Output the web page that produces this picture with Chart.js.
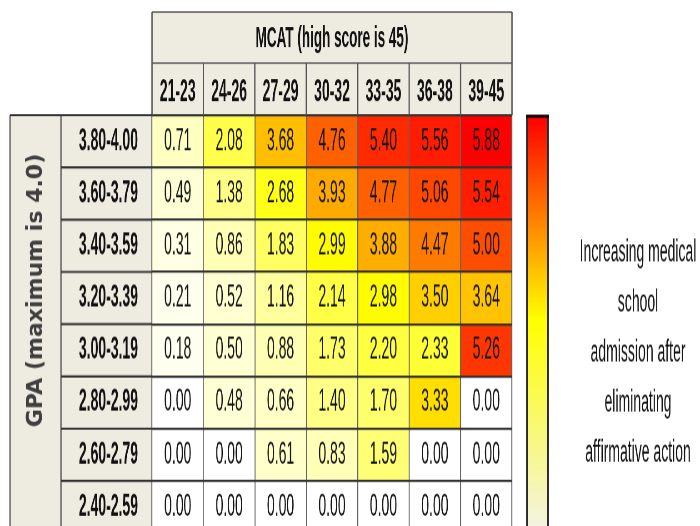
<!DOCTYPE html>
<html>
<head>
<meta charset="utf-8">
<script src="https://cdn.jsdelivr.net/npm/chart.js@4.4.1/dist/chart.umd.min.js"></script>
<style>
  html, body { margin: 0; padding: 0; background: #fff; }
  #wrap { width: 700px; height: 526px; overflow: hidden; position: relative; }
  #inner { width: 700px; height: 244px; transform: scaleY(2.2); transform-origin: 0 0; }
</style>
</head>
<body>
<div id="wrap"><div id="inner"><canvas id="heat" width="700" height="244"></canvas></div></div>
<script>
// MCAT columns and GPA rows
const mcatBins = ["21-23", "24-26", "27-29", "30-32", "33-35", "36-38", "39-45"];
const gpaBins = ["3.80-4.00", "3.60-3.79", "3.40-3.59", "3.20-3.39", "3.00-3.19", "2.80-2.99", "2.60-2.79", "2.40-2.59"];

// one array per GPA row, left to right by MCAT
const gpa380 = [0.71, 2.08, 3.68, 4.76, 5.40, 5.56, 5.88];
const gpa360 = [0.49, 1.38, 2.68, 3.93, 4.77, 5.06, 5.54];
const gpa340 = [0.31, 0.86, 1.83, 2.99, 3.88, 4.47, 5.00];
const gpa320 = [0.21, 0.52, 1.16, 2.14, 2.98, 3.50, 3.64];
const gpa300 = [0.18, 0.50, 0.88, 1.73, 2.20, 2.33, 5.26];
const gpa280 = [0.00, 0.48, 0.66, 1.40, 1.70, 3.33, 0.00];
const gpa260 = [0.00, 0.00, 0.61, 0.83, 1.59, 0.00, 0.00];
const gpa240 = [0.00, 0.00, 0.00, 0.00, 0.00, 0.00, 0.00];
const gpaRows = [gpa380, gpa360, gpa340, gpa320, gpa300, gpa280, gpa260, gpa240];

const xTitle = "MCAT (high score is 45)";
const yTitle = "GPA (maximum is 4.0)";
const legendLines = ["Increasing medical", "school", "admission after", "eliminating", "affirmative action"];

const SY = 2.2; // page is stretched vertically by this much
const FONT = "'Liberation Sans', Arial, sans-serif";
const BEIGE = "#eeece1";

function heat(v) {
  if (v <= 0) return "#ffffff";
  const mid = 2.95, max = 5.88;
  if (v <= mid) {
    const b = Math.round(255 * (1 - v / mid));
    return "rgb(255,255," + b + ")";
  }
  const g = Math.round(255 * (1 - Math.min(1, (v - mid) / (max - mid))));
  return "rgb(255," + g + ",0)";
}

const tablePlugin = {
  id: "table",
  beforeDraw(chart) {
    const ctx = chart.ctx, a = chart.chartArea;
    ctx.save();
    ctx.fillStyle = "#fff";
    ctx.fillRect(0, 0, chart.width, chart.height);
    ctx.fillStyle = BEIGE;
    ctx.fillRect(a.left, 12 / SY, a.right - a.left, a.top - 12 / SY);
    ctx.fillRect(10, a.top, a.left - 10, chart.height - a.top);
    ctx.restore();
  },
  afterDatasetsDraw(chart) {
    const ctx = chart.ctx;
    ctx.save();
    ctx.fillStyle = "#151515";
    ctx.font = "14px " + FONT;
    ctx.textAlign = "center";
    ctx.textBaseline = "middle";
    chart.data.datasets.forEach((ds, r) => {
      chart.getDatasetMeta(r).data.forEach((bar, c) => {
        const p = bar.getCenterPoint();
        ctx.fillText(gpaRows[r][c].toFixed(2), p.x, p.y);
      });
    });
    ctx.restore();
  },
  afterDraw(chart) {
    const ctx = chart.ctx, a = chart.chartArea;
    const xs = chart.scales.x, ys = chart.scales.y;
    const hTop = 12 / SY, hMid = 63 / SY;
    ctx.save();
    // header frame
    ctx.strokeStyle = "#555";
    ctx.lineWidth = 1.3 / SY;
    ctx.beginPath();
    ctx.moveTo(a.left, hTop); ctx.lineTo(a.right, hTop);
    ctx.moveTo(a.left, hMid); ctx.lineTo(a.right, hMid);
    ctx.stroke();
    ctx.lineWidth = 1.3;
    ctx.beginPath();
    ctx.moveTo(a.left, hTop); ctx.lineTo(a.left, a.top);
    ctx.moveTo(a.right, hTop); ctx.lineTo(a.right, a.top);
    for (let i = 1; i < mcatBins.length; i++) {
      const x = (xs.getPixelForValue(i - 1) + xs.getPixelForValue(i)) / 2;
      ctx.moveTo(x, hMid); ctx.lineTo(x, a.top);
    }
    ctx.moveTo(10, a.top); ctx.lineTo(10, chart.height);
    ctx.moveTo(61, a.top); ctx.lineTo(61, chart.height);
    ctx.stroke();
    // row lines in the label column
    ctx.strokeStyle = "#333";
    ctx.lineWidth = 1;
    ctx.beginPath();
    ctx.moveTo(10, a.top); ctx.lineTo(a.left, a.top);
    for (let r = 1; r <= gpaBins.length; r++) {
      const y = ys.getPixelForValue(r);
      ctx.moveTo(61, y); ctx.lineTo(a.left, y);
    }
    ctx.stroke();

    // colour bar
    const cx0 = 527, cx1 = 548, cy0 = 116 / SY, cy1 = 531 / SY;
    const grad = ctx.createLinearGradient(0, cy0, 0, cy1);
    grad.addColorStop(0, "#ff0000");
    grad.addColorStop(0.49, "#ffff00");
    grad.addColorStop(1, "#f3f3e6");
    ctx.fillStyle = grad;
    ctx.fillRect(cx0, cy0, cx1 - cx0, cy1 - cy0);
    ctx.strokeStyle = "#2a2a2a";
    ctx.lineWidth = 2;
    ctx.beginPath();
    ctx.moveTo(cx0, cy0); ctx.lineTo(cx0, chart.height);
    ctx.moveTo(cx1, cy0); ctx.lineTo(cx1, chart.height);
    ctx.stroke();
    ctx.strokeStyle = "#000";
    ctx.lineWidth = 3 / SY;
    ctx.beginPath();
    ctx.moveTo(cx0 - 1, cy0); ctx.lineTo(cx1 + 1, cy0);
    ctx.stroke();

    // legend text
    ctx.fillStyle = "#151515";
    ctx.font = "14px " + FONT;
    ctx.textAlign = "center";
    ctx.textBaseline = "alphabetic";
    legendLines.forEach((t, i) => {
      ctx.fillText(t, 638, (261 + i * 50) / SY);
    });

    // rotated GPA title, drawn unstretched
    ctx.translate(36, 290 / SY);
    ctx.scale(1, 1 / SY);
    ctx.rotate(-Math.PI / 2);
    ctx.fillStyle = "#3f3f3f";
    ctx.font = "bold 22px 'DejaVu Sans', sans-serif";
    ctx.textAlign = "center";
    ctx.textBaseline = "middle";
    ctx.fillText(yTitle, 0, 0);
    ctx.restore();
  }
};

new Chart(document.getElementById("heat"), {
  type: "bar",
  data: {
    labels: mcatBins,
    datasets: gpaRows.map((vals, r) => ({
      label: gpaBins[r],
      data: vals.map(() => [r, r + 1]),
      backgroundColor: (c) => heat(gpaRows[c.datasetIndex][c.dataIndex]),
      borderWidth: 0,
      barPercentage: 1,
      categoryPercentage: 1,
      grouped: false,
    })),
  },
  options: {
    responsive: false,
    animation: false,
    devicePixelRatio: 2.2,
    layout: { padding: { left: 10, right: 188, top: 12 / SY, bottom: 244 - 532.3 / SY } },
    plugins: { legend: { display: false }, tooltip: { enabled: false } },
    scales: {
      x: {
        type: "category",
        position: "top",
        offset: true,
        grid: { offset: true, color: "#666", lineWidth: 1, drawTicks: false, z: 1 },
        border: { display: false },
        ticks: {
          padding: 2,
          color: "#111",
          maxRotation: 0,
          autoSkip: false,
          font: { family: FONT, size: 14, weight: "bold" },
        },
        title: {
          display: true,
          text: xTitle,
          color: "#111",
          font: { family: FONT, size: 13.5, weight: "bold" },
          padding: { top: 4, bottom: 0 },
        },
        afterFit(s) {
          s.height = (115 - 12) / SY;
          s.paddingLeft = 0;
          s.paddingRight = 0;
        },
      },
      y: {
        type: "linear",
        reverse: true,
        min: 0,
        max: 8,
        afterBuildTicks(s) {
          s.ticks = [];
          for (let i = 0; i <= 16; i++) s.ticks.push({ value: i / 2 });
        },
        afterFit(s) {
          s.width = 142;
          s.paddingTop = 0;
          s.paddingBottom = 0;
        },
        grid: {
          color: (c) => (c.tick && Number.isInteger(c.tick.value) ? "#333" : "rgba(0,0,0,0)"),
          lineWidth: 1,
          drawTicks: false,
          z: 1,
        },
        border: { display: false },
        ticks: {
          autoSkip: false,
          padding: 14,
          color: "#111",
          font: { family: FONT, size: 14, weight: "bold" },
          callback: (v) => ((v * 2) % 2 === 1 ? gpaBins[Math.floor(v)] : ""),
        },
      },
    },
  },
  plugins: [tablePlugin],
});
</script>
</body>
</html>
